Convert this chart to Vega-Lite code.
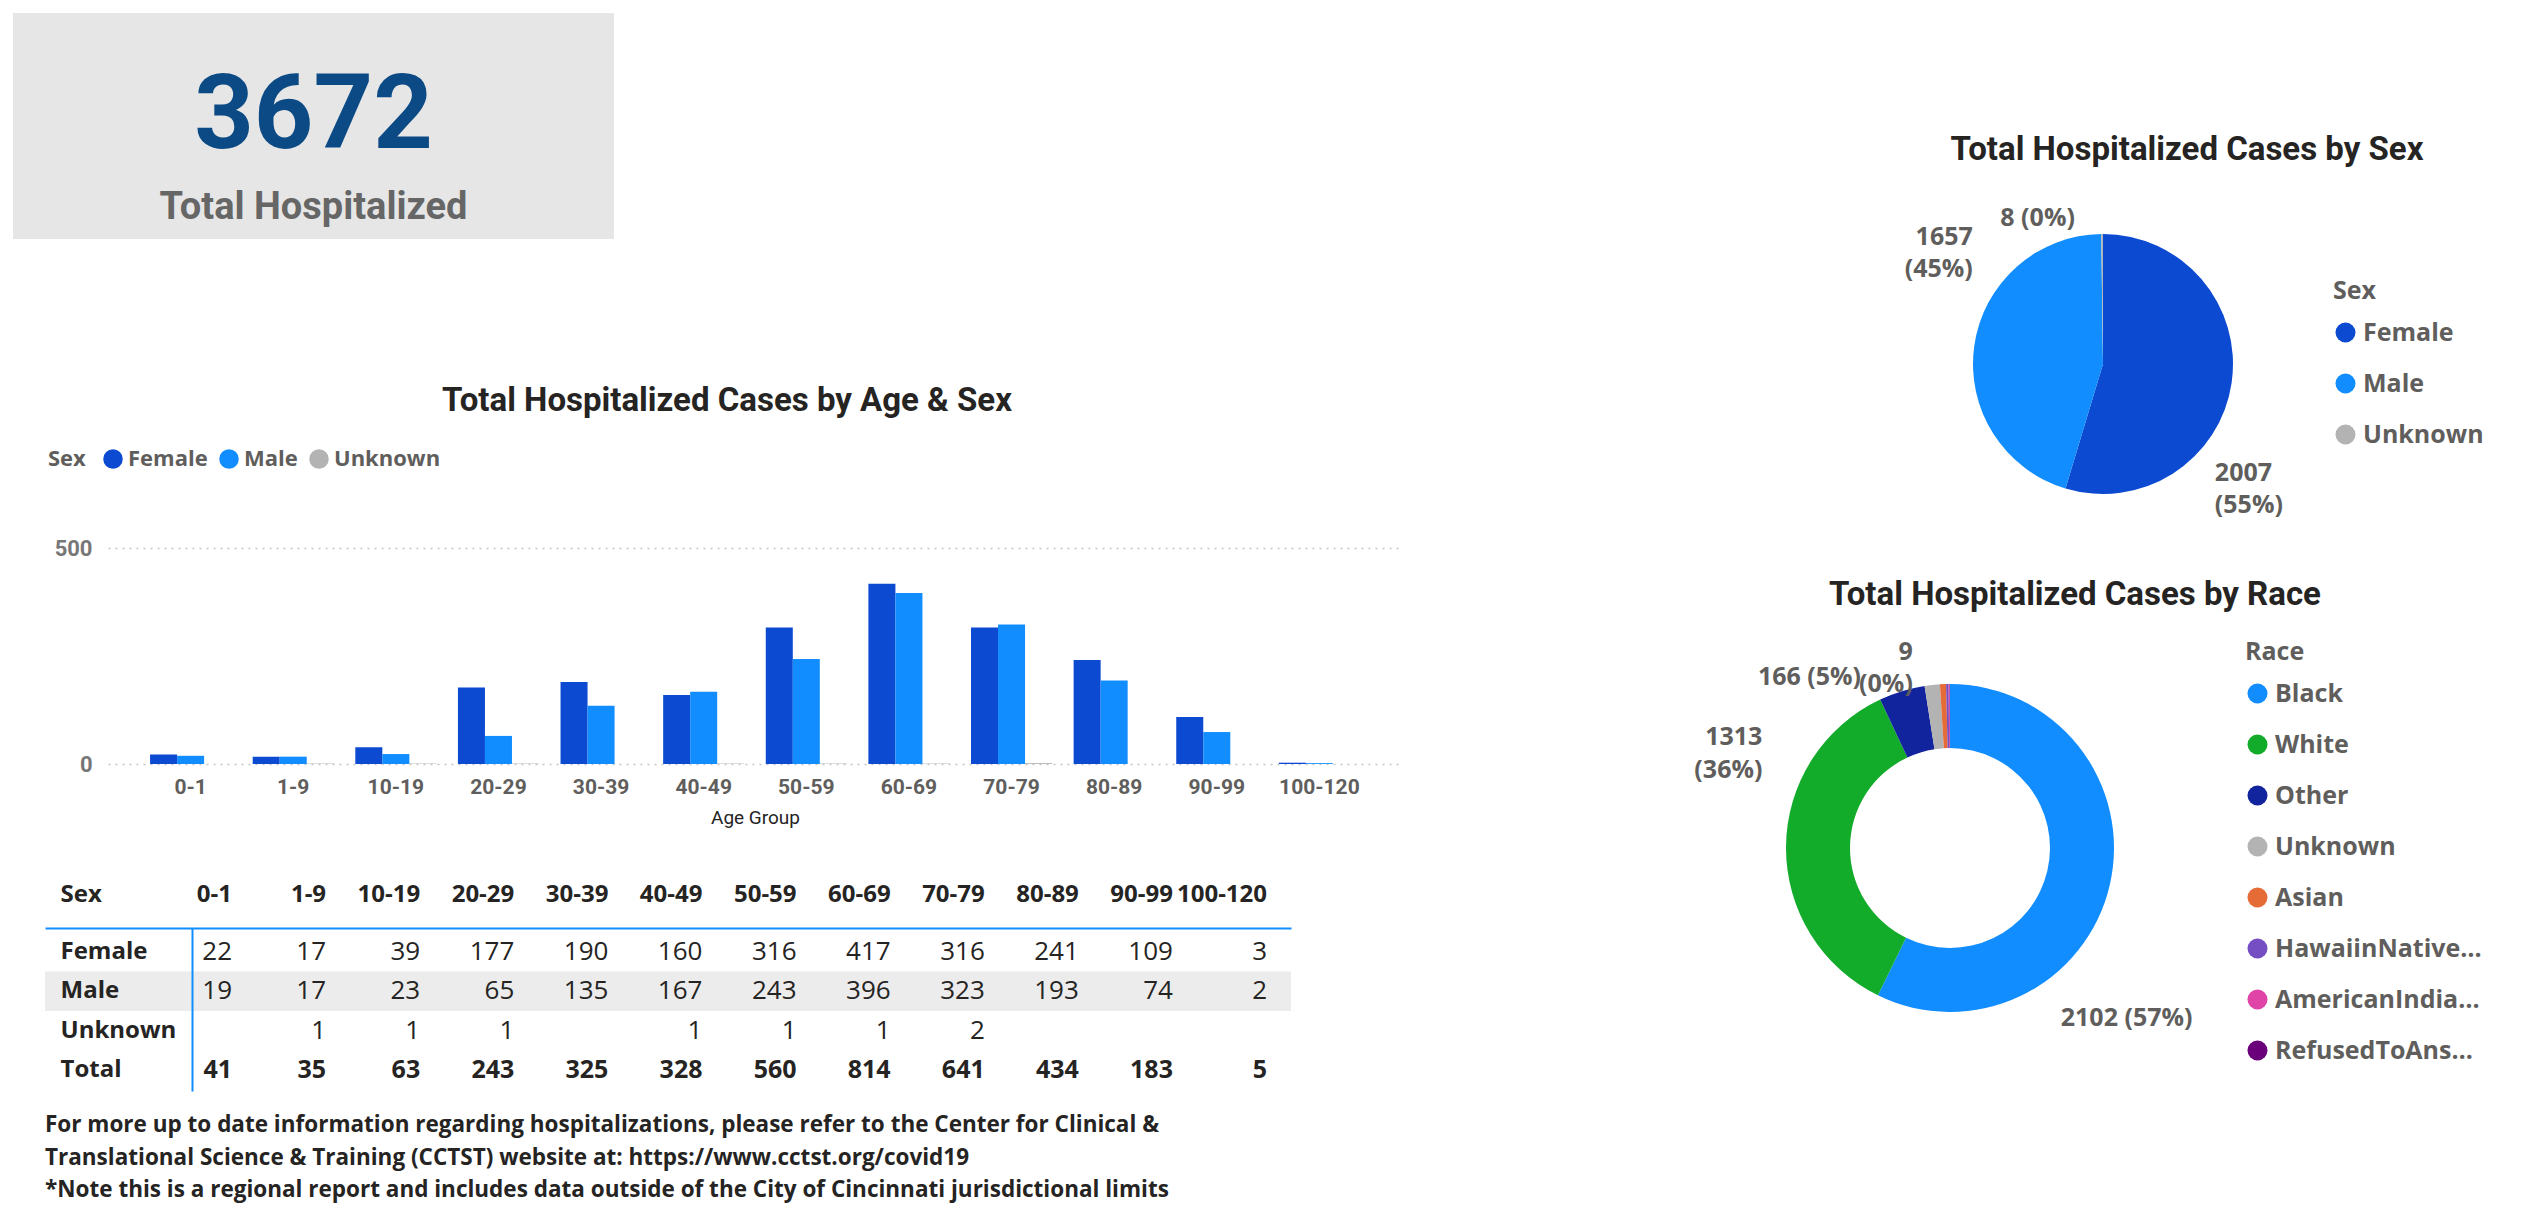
{
  "$schema": "https://vega.github.io/schema/vega-lite/v6.json",
  "padding": {"left": 13, "top": 13, "right": 10, "bottom": 5},
  "background": "white",
  "config": {"view": {"stroke": null}, "font": "Roboto"},
  "datasets": {
    "ages": [
      {"AgeGroup": "0-1", "Sex": "Female", "count": 22},
      {"AgeGroup": "1-9", "Sex": "Female", "count": 17},
      {"AgeGroup": "10-19", "Sex": "Female", "count": 39},
      {"AgeGroup": "20-29", "Sex": "Female", "count": 177},
      {"AgeGroup": "30-39", "Sex": "Female", "count": 190},
      {"AgeGroup": "40-49", "Sex": "Female", "count": 160},
      {"AgeGroup": "50-59", "Sex": "Female", "count": 316},
      {"AgeGroup": "60-69", "Sex": "Female", "count": 417},
      {"AgeGroup": "70-79", "Sex": "Female", "count": 316},
      {"AgeGroup": "80-89", "Sex": "Female", "count": 241},
      {"AgeGroup": "90-99", "Sex": "Female", "count": 109},
      {"AgeGroup": "100-120", "Sex": "Female", "count": 3},
      {"AgeGroup": "0-1", "Sex": "Male", "count": 19},
      {"AgeGroup": "1-9", "Sex": "Male", "count": 17},
      {"AgeGroup": "10-19", "Sex": "Male", "count": 23},
      {"AgeGroup": "20-29", "Sex": "Male", "count": 65},
      {"AgeGroup": "30-39", "Sex": "Male", "count": 135},
      {"AgeGroup": "40-49", "Sex": "Male", "count": 167},
      {"AgeGroup": "50-59", "Sex": "Male", "count": 243},
      {"AgeGroup": "60-69", "Sex": "Male", "count": 396},
      {"AgeGroup": "70-79", "Sex": "Male", "count": 323},
      {"AgeGroup": "80-89", "Sex": "Male", "count": 193},
      {"AgeGroup": "90-99", "Sex": "Male", "count": 74},
      {"AgeGroup": "100-120", "Sex": "Male", "count": 2},
      {"AgeGroup": "1-9", "Sex": "Unknown", "count": 1},
      {"AgeGroup": "10-19", "Sex": "Unknown", "count": 1},
      {"AgeGroup": "20-29", "Sex": "Unknown", "count": 1},
      {"AgeGroup": "40-49", "Sex": "Unknown", "count": 1},
      {"AgeGroup": "50-59", "Sex": "Unknown", "count": 1},
      {"AgeGroup": "60-69", "Sex": "Unknown", "count": 1},
      {"AgeGroup": "70-79", "Sex": "Unknown", "count": 2}
    ]
  },
  "resolve": {"scale": {"color": "independent"}, "legend": {"color": "independent"}},
  "spacing": 292,
  "hconcat": [
    {
      "spacing": 146,
      "resolve": {"scale": {"color": "independent"}, "legend": {"color": "independent"}},
      "vconcat": [
        {
          "width": 601,
          "height": 226,
          "view": {"fill": "#e6e6e6", "stroke": null},
          "data": {"values": [{"role": "value", "text": "3672"}, {"role": "label", "text": "Total Hospitalized"}]},
          "encoding": {
            "y": {"field": "role", "type": "nominal", "axis": null, "scale": {"type": "point", "domain": ["value", "label"], "padding": 0.742, "align": 0.77}},
            "text": {"field": "text", "type": "nominal"}
          },
          "layer": [
            {"transform": [{"filter": "datum.role === 'value'"}], "mark": {"type": "text", "font": "Roboto", "fontWeight": "bold", "fontSize": 104, "color": "#0b4a85"}},
            {"transform": [{"filter": "datum.role === 'label'"}], "mark": {"type": "text", "font": "Roboto", "fontWeight": "bold", "fontSize": 38, "color": "#666666"}}
          ]
        },
        {
          "spacing": 55,
          "resolve": {"scale": {"color": "independent"}, "legend": {"color": "independent"}},
          "vconcat": [
            {
              "spacing": 34,
              "resolve": {"scale": {"color": "independent"}, "legend": {"color": "independent"}},
              "hconcat": [
                {"width": 1, "height": 1, "data": {"values": []}, "mark": "point"},
                {
                  "width": 1294,
                  "height": 216,
                  "data": {"name": "ages"},
                  "title": {"text": "Total Hospitalized Cases by Age & Sex", "font": "Roboto", "fontSize": 33, "fontWeight": "bold", "color": "#252423", "anchor": "middle", "frame": "group", "dx": -28, "offset": 30},
                  "mark": {"type": "bar"},
                  "encoding": {
                    "x": {
                      "field": "AgeGroup", "type": "nominal",
                      "scale": {"type": "band", "domain": ["0-1", "1-9", "10-19", "20-29", "30-39", "40-49", "50-59", "60-69", "70-79", "80-89", "90-99", "100-120"], "paddingInner": 0.21, "paddingOuter": 0.41},
                      "axis": {"title": "Age Group", "labelAngle": 0, "labelOverlap": false, "labelFont": "Roboto", "labelFontSize": 21, "labelFontWeight": "bold", "labelColor": "#605e5c", "labelPadding": 12, "domain": false, "ticks": false, "titleFont": "Roboto", "titleFontSize": 19, "titleFontWeight": "normal", "titleColor": "#252423", "titlePadding": 11}
                    },
                    "xOffset": {"field": "Sex", "type": "nominal", "scale": {"domain": ["Female", "Male", "Unknown"], "paddingInner": 0, "paddingOuter": 0}},
                    "y": {
                      "field": "count", "type": "quantitative",
                      "scale": {"domain": [0, 500], "nice": false},
                      "axis": {"values": [0, 500], "title": null, "domain": false, "ticks": false, "grid": true, "gridDash": [2, 5], "gridColor": "#c8c6c4", "gridWidth": 1.5, "labelFont": "Roboto", "labelFontSize": 22, "labelFontWeight": "bold", "labelColor": "#777777", "labelPadding": 16}
                    },
                    "color": {
                      "field": "Sex", "type": "nominal",
                      "scale": {"domain": ["Female", "Male", "Unknown"], "range": ["#0b4ad1", "#118dff", "#b3b3b3"]},
                      "legend": {"orient": "none", "legendX": -60, "legendY": -100, "direction": "horizontal", "title": "Sex", "titleOrient": "left", "titleFont": "Open Sans", "titleFontSize": 22, "titleFontWeight": "bold", "titleColor": "#605e5c", "titlePadding": 16, "labelFont": "Open Sans", "labelFontSize": 22, "labelFontWeight": "bold", "labelColor": "#605e5c", "labelOffset": 4, "symbolType": "circle", "symbolSize": 380, "symbolStrokeWidth": 0, "columnPadding": 10}
                    }
                  }
                }
              ]
            },
            {
              "spacing": 31,
              "hconcat": [
                {"width": 1, "height": 1, "data": {"values": []}, "mark": "point"},
                {
                  "width": 1246,
                  "height": 163,
                  "title": {
                    "text": [
                      "For more up to date information regarding hospitalizations, please refer to the Center for Clinical &",
                      "Translational Science & Training (CCTST) website at: https://www.cctst.org/covid19",
                      "*Note this is a regional report and includes data outside of the City of Cincinnati jurisdictional limits"
                    ],
                    "orient": "bottom", "anchor": "start", "frame": "group", "font": "Open Sans", "fontSize": 22.5, "fontWeight": "bold", "color": "#252423", "lineHeight": 32.5, "offset": 23, "baseline": "top"
                  },
                  "layer": [
                    {
                      "data": {"values": [{"Sex": "Male"}]},
                      "mark": {"type": "rect", "color": "#ececec"},
                      "encoding": {
                        "y": {
                          "field": "Sex", "type": "nominal",
                          "scale": {"type": "band", "domain": ["Female", "Male", "Unknown", "Total"], "paddingInner": 0, "paddingOuter": 0.0633, "align": 0.8},
                          "axis": {"title": null, "offset": -147, "zindex": 1, "minExtent": 0, "maxExtent": 130, "domainColor": "#118dff", "domainWidth": 2, "ticks": false, "labelAlign": "left", "labelPadding": 132, "labelFont": "Open Sans", "labelFontSize": 24, "labelFontWeight": "bold", "labelColor": "#252423"}
                        }
                      }
                    },
                    {
                      "data": {"name": "ages"},
                      "mark": {"type": "text", "align": "right", "baseline": "middle", "font": "Open Sans", "fontSize": 26, "color": "#252423"},
                      "encoding": {
                        "x": {
                          "field": "AgeGroup", "type": "nominal", "bandPosition": 1,
                          "scale": {"type": "band", "domain": ["0-1", "1-9", "10-19", "20-29", "30-39", "40-49", "50-59", "60-69", "70-79", "80-89", "90-99", "100-120"], "paddingInner": 0, "paddingOuter": 0.621, "align": 0.795},
                          "axis": {"orient": "top", "zindex": 1, "labelAlign": "right", "labelOffset": 47.05, "labelAngle": 0, "labelOverlap": false, "labelBaseline": "alphabetic", "labelPadding": 27, "labelFont": "Open Sans", "labelFontSize": 24, "labelFontWeight": "bold", "labelColor": "#252423", "ticks": false, "domainColor": "#118dff", "domainWidth": 2, "title": "Sex", "titleX": 15, "titleY": -27, "titleAlign": "left", "titleAnchor": "start", "titleBaseline": "alphabetic", "titleFont": "Open Sans", "titleFontSize": 24, "titleFontWeight": "bold", "titleColor": "#252423"}
                        },
                        "y": {"field": "Sex", "type": "nominal"},
                        "text": {"field": "count", "type": "quantitative"}
                      }
                    },
                    {
                      "data": {"name": "ages"},
                      "transform": [{"aggregate": [{"op": "sum", "field": "count", "as": "total"}], "groupby": ["AgeGroup"]}],
                      "mark": {"type": "text", "align": "right", "baseline": "middle", "font": "Open Sans", "fontSize": 25, "fontWeight": "bold", "color": "#252423"},
                      "encoding": {
                        "x": {"field": "AgeGroup", "type": "nominal", "bandPosition": 1},
                        "y": {"datum": "Total", "type": "nominal"},
                        "text": {"field": "total", "type": "quantitative"}
                      }
                    }
                  ]
                }
              ]
            }
          ]
        }
      ]
    },
    {
      "spacing": 174,
      "bounds": "flush",
      "resolve": {"scale": {"color": "independent"}, "legend": {"color": "independent"}},
      "vconcat": [
        {"width": 1, "height": 37, "data": {"values": []}, "mark": "point"},
        {
          "width": 640,
          "height": 280,
          "title": {"text": "Total Hospitalized Cases by Sex", "font": "Roboto", "fontSize": 33, "fontWeight": "bold", "color": "#252423", "anchor": "middle", "frame": "group", "dx": 84, "offset": 38},
          "data": {"values": [
            {"Sex": "Female", "count": 2007, "label": "2007\n(55%)"},
            {"Sex": "Male", "count": 1657, "label": "1657\n(45%)"},
            {"Sex": "Unknown", "count": 8, "label": "8 (0%)"}
          ]},
          "encoding": {
            "theta": {"field": "count", "type": "quantitative", "stack": true},
            "order": {"field": "count", "type": "quantitative", "sort": "descending"}
          },
          "layer": [
            {
              "mark": {"type": "arc", "outerRadius": 130},
              "encoding": {
                "color": {
                  "field": "Sex", "type": "nominal",
                  "scale": {"domain": ["Female", "Male", "Unknown"], "range": ["#0b4ad1", "#118dff", "#b3b3b3"]},
                  "legend": {"orient": "none", "legendX": 550, "legendY": 55, "title": "Sex", "titleFont": "Open Sans", "titleFontSize": 25, "titleFontWeight": "bold", "titleColor": "#605e5c", "titlePadding": 16, "labelFont": "Open Sans", "labelFontSize": 25, "labelFontWeight": "bold", "labelColor": "#605e5c", "labelOffset": 5, "symbolType": "circle", "symbolSize": 400, "symbolStrokeWidth": 0, "rowPadding": 25}
                }
              }
            },
            {
              "mark": {"type": "text", "radius": 156, "thetaOffset": 0.625, "align": "left", "font": "Open Sans", "fontWeight": "bold", "fontSize": 25, "color": "#605e5c", "lineBreak": "\n", "lineHeight": 32},
              "encoding": {"text": {"condition": {"test": "datum.Sex === 'Female'", "field": "label"}, "value": ""}}
            },
            {
              "mark": {"type": "text", "radius": 182, "thetaOffset": 0.634, "align": "right", "font": "Open Sans", "fontWeight": "bold", "fontSize": 25, "color": "#605e5c", "lineBreak": "\n", "lineHeight": 32},
              "encoding": {"text": {"condition": {"test": "datum.Sex === 'Male'", "field": "label"}, "value": ""}}
            },
            {
              "mark": {"type": "text", "radius": 149, "thetaOffset": -0.183, "align": "right", "font": "Open Sans", "fontWeight": "bold", "fontSize": 25, "color": "#605e5c", "lineBreak": "\n", "lineHeight": 32},
              "encoding": {"text": {"condition": {"test": "datum.Sex === 'Unknown'", "field": "label"}, "value": ""}}
            }
          ]
        },
        {
          "width": 334,
          "height": 340,
          "title": {"text": "Total Hospitalized Cases by Race", "font": "Roboto", "fontSize": 33, "fontWeight": "bold", "color": "#252423", "anchor": "middle", "frame": "group", "dx": 125, "offset": 12},
          "data": {"values": [
            {"Race": "Black", "count": 2102, "label": "2102 (57%)"},
            {"Race": "White", "count": 1313, "label": "1313\n(36%)"},
            {"Race": "Other", "count": 166, "label": "166 (5%)"},
            {"Race": "Unknown", "count": 55, "label": ""},
            {"Race": "Asian", "count": 22, "label": ""},
            {"Race": "HawaiinNativeOrPacificIslander", "count": 9, "label": "9\n(0%)"},
            {"Race": "AmericanIndianOrAlaskaNative", "count": 4, "label": ""},
            {"Race": "RefusedToAnswer", "count": 1, "label": ""}
          ]},
          "encoding": {
            "theta": {"field": "count", "type": "quantitative", "stack": true},
            "order": {"field": "count", "type": "quantitative", "sort": "descending"}
          },
          "layer": [
            {
              "mark": {"type": "arc", "outerRadius": 164, "innerRadius": 100},
              "encoding": {
                "color": {
                  "field": "Race", "type": "nominal",
                  "scale": {"domain": ["Black", "White", "Other", "Unknown", "Asian", "HawaiinNativeOrPacificIslander", "AmericanIndianOrAlaskaNative", "RefusedToAnswer"], "range": ["#118dff", "#13ab2a", "#12239e", "#b3b3b3", "#e66c37", "#744ec2", "#e044a7", "#6b007b"]},
                  "legend": {"orient": "none", "legendX": 462, "legendY": -38, "title": "Race", "titleFont": "Open Sans", "titleFontSize": 25, "titleFontWeight": "bold", "titleColor": "#605e5c", "titlePadding": 16, "labelFont": "Open Sans", "labelFontSize": 25, "labelFontWeight": "bold", "labelColor": "#605e5c", "labelOffset": 5, "labelLimit": 215, "symbolType": "circle", "symbolSize": 400, "symbolStrokeWidth": 0, "rowPadding": 25}
                }
              }
            },
            {
              "mark": {"type": "text", "radius": 203, "thetaOffset": 0.766, "align": "left", "font": "Open Sans", "fontWeight": "bold", "fontSize": 25, "color": "#605e5c", "lineBreak": "\n", "lineHeight": 33},
              "encoding": {"text": {"condition": {"test": "datum.Race === 'Black'", "field": "label"}, "value": ""}}
            },
            {
              "mark": {"type": "text", "radius": 218, "thetaOffset": 0.527, "align": "right", "font": "Open Sans", "fontWeight": "bold", "fontSize": 25, "color": "#605e5c", "lineBreak": "\n", "lineHeight": 33},
              "encoding": {"text": {"condition": {"test": "datum.Race === 'White'", "field": "label"}, "value": ""}}
            },
            {
              "mark": {"type": "text", "radius": 193, "thetaOffset": -0.181, "align": "right", "font": "Open Sans", "fontWeight": "bold", "fontSize": 25, "color": "#605e5c", "lineBreak": "\n", "lineHeight": 33},
              "encoding": {"text": {"condition": {"test": "datum.Race === 'Other'", "field": "label"}, "value": ""}}
            },
            {
              "mark": {"type": "text", "radius": 199.5, "thetaOffset": -0.171, "align": "right", "font": "Open Sans", "fontWeight": "bold", "fontSize": 25, "color": "#605e5c", "lineBreak": "\n", "lineHeight": 32},
              "encoding": {"text": {"condition": {"test": "datum.Race === 'HawaiinNativeOrPacificIslander'", "field": "label"}, "value": ""}}
            }
          ]
        }
      ]
    }
  ]
}
